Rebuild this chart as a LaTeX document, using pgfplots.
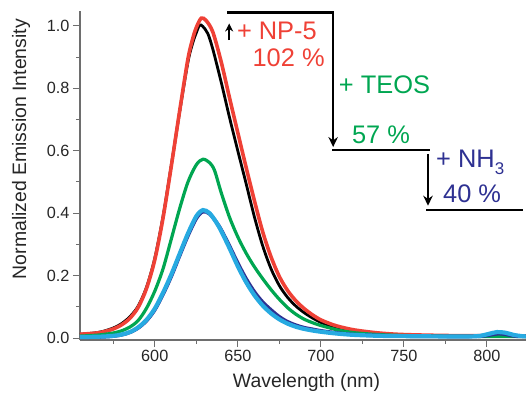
\documentclass[border=0pt]{standalone}
\usepackage{fontspec}
\setmainfont{Liberation Sans}
\usepackage{pgfplots}
\pgfplotsset{compat=1.18}
\usetikzlibrary{arrows.meta}
\definecolor{cred}{RGB}{239,65,54}
\definecolor{cgreen}{RGB}{0,166,81}
\definecolor{cdblue}{RGB}{46,49,146}
\definecolor{clblue}{RGB}{39,170,225}
\definecolor{axgray}{RGB}{110,110,110}
\begin{document}
\begin{tikzpicture}
\begin{axis}[
  width=446bp, height=329bp, scale only axis,
  xmin=555, xmax=823.5, ymin=-0.0064, ymax=1.048,
  axis lines*=left,
  axis line style={axgray, line width=1.2bp},
  every tick/.style={axgray, line width=1bp},
  xtick={600,650,...,800}, minor xtick={575,625,...,825},
  ytick={0,0.2,...,1.0}, minor ytick={0.1,0.3,...,0.9},
  tick align=outside, major tick length=7bp, minor tick length=4bp,
  /pgf/number format/assume math mode=true,
  yticklabel style={/pgf/number format/fixed, /pgf/number format/fixed zerofill, /pgf/number format/precision=1},
  xticklabel style={/pgf/number format/1000 sep={}},
  tick label style={font=\fontsize{16.3}{18}\selectfont, text=black!85},
  xlabel={Wavelength (nm)},
  ylabel={Normalized Emission Intensity},
  xlabel style={font=\fontsize{19.5}{22}\selectfont, text=black!85, at={(axis description cs:0.508,0)}, anchor=base, yshift=-47bp},
  ylabel style={font=\fontsize{19.5}{22}\selectfont, text=black!85, at={(axis description cs:-0.132,0.58)}, anchor=center},
  clip mode=individual,
]
% black
\addplot[black, line width=2.8bp, smooth] coordinates {
(555,0.012)(565,0.017)(570,0.023)(575,0.032)(580,0.046)(585,0.068)(590,0.102)(595,0.162)(600,0.255)(605,0.39)(610,0.555)(615,0.725)(620,0.885)(623,0.948)(625,0.978)(627,1.003)(629,0.998)(632,0.975)(635,0.925)(640,0.82)(645,0.707)(650,0.6)(655,0.495)(660,0.388)(665,0.295)(670,0.222)(675,0.168)(680,0.13)(685,0.102)(690,0.081)(695,0.064)(700,0.05)(705,0.04)(710,0.032)(720,0.021)(735,0.013)(750,0.009)(775,0.007)(800,0.006)(824,0.006)};
% red
\addplot[cred, line width=3.6bp, smooth] coordinates {
(555,0.012)(565,0.016)(570,0.021)(575,0.029)(580,0.042)(585,0.063)(590,0.098)(595,0.158)(600,0.25)(605,0.385)(610,0.552)(615,0.728)(620,0.895)(623,0.962)(625,0.995)(628,1.025)(631,1.017)(635,0.98)(640,0.885)(645,0.77)(650,0.658)(655,0.547)(660,0.44)(665,0.34)(670,0.26)(675,0.197)(680,0.152)(685,0.119)(690,0.094)(695,0.074)(700,0.058)(705,0.047)(710,0.038)(720,0.026)(735,0.016)(750,0.011)(775,0.008)(800,0.007)(824,0.007)};
% green
\addplot[cgreen, line width=3.2bp, smooth] coordinates {
(555,0.006)(565,0.009)(570,0.012)(575,0.016)(580,0.023)(585,0.035)(590,0.056)(595,0.095)(600,0.15)(605,0.222)(610,0.318)(615,0.415)(620,0.5)(625,0.555)(629,0.573)(633,0.562)(636,0.537)(640,0.466)(645,0.387)(650,0.324)(655,0.272)(660,0.228)(665,0.19)(670,0.155)(675,0.124)(680,0.097)(685,0.076)(690,0.06)(695,0.049)(700,0.04)(710,0.026)(720,0.017)(735,0.011)(750,0.008)(775,0.006)(800,0.005)(824,0.005)};
% dark blue
\addplot[cdblue, line width=3.6bp, smooth] coordinates {
(555,0.002)(565,0.003)(570,0.004)(575,0.006)(580,0.01)(585,0.018)(590,0.032)(595,0.055)(600,0.09)(605,0.14)(610,0.198)(615,0.264)(620,0.328)(625,0.383)(629,0.405)(633,0.398)(637,0.372)(640,0.347)(645,0.295)(650,0.24)(655,0.19)(660,0.148)(665,0.115)(670,0.09)(675,0.068)(680,0.052)(685,0.041)(690,0.033)(695,0.028)(700,0.023)(710,0.016)(720,0.011)(735,0.008)(750,0.006)(775,0.005)(790,0.005)(797,0.006)(802,0.01)(807,0.014)(812,0.011)(817,0.006)(824,0.005)};
% light blue
\addplot[clblue, line width=4.2bp, smooth] coordinates {
(555,0.003)(565,0.004)(570,0.005)(575,0.007)(580,0.011)(585,0.019)(590,0.034)(595,0.058)(600,0.094)(605,0.145)(610,0.204)(615,0.27)(620,0.335)(625,0.39)(629,0.41)(633,0.4)(637,0.371)(640,0.343)(645,0.288)(650,0.23)(655,0.179)(660,0.137)(665,0.104)(670,0.079)(675,0.06)(680,0.046)(685,0.036)(690,0.029)(695,0.024)(700,0.02)(710,0.014)(720,0.01)(735,0.007)(750,0.006)(775,0.005)(790,0.005)(796,0.007)(801,0.013)(806,0.019)(811,0.017)(816,0.01)(821,0.006)(824,0.005)};
% annotations
\draw[black, line width=2.4bp] (axis cs:643.6,1.043) -- (axis cs:707.8,1.043);
\draw[black, line width=2.4bp] (axis cs:707,0.603) -- (axis cs:765.7,0.603);
\draw[black, line width=2.4bp] (axis cs:763.3,0.41) -- (axis cs:821.7,0.41);
\draw[black, line width=2.2bp, -{Stealth[length=8bp,width=8bp]}] (axis cs:644.8,0.955) -- (axis cs:644.8,1.008);
\draw[black, line width=2.2bp, -{Stealth[length=10bp,width=9.5bp]}] (axis cs:707.4,1.043) -- (axis cs:707.4,0.612);
\draw[black, line width=2.2bp, -{Stealth[length=10bp,width=9.5bp]}] (axis cs:764.5,0.59) -- (axis cs:764.5,0.424);
\node[anchor=base west, inner sep=0pt, text=cred, font=\fontsize{25.5}{27}\selectfont] at (axis cs:649.4,0.958) {+ NP-5};
\node[anchor=base east, inner sep=0pt, text=cred, font=\fontsize{25.5}{27}\selectfont] at (axis cs:702.4,0.87) {102 \%};
\node[anchor=base west, inner sep=0pt, text=cgreen, font=\fontsize{25.5}{27}\selectfont] at (axis cs:710.8,0.785) {+ TEOS};
\node[anchor=base west, inner sep=0pt, text=cgreen, font=\fontsize{25.5}{27}\selectfont] at (axis cs:718.7,0.622) {57 \%};
\node[anchor=base west, inner sep=0pt, text=cdblue, font=\fontsize{25.5}{27}\selectfont] at (axis cs:769.3,0.545) {+ NH\raisebox{-0.25em}{\fontsize{17}{17}\selectfont 3}};
\node[anchor=base west, inner sep=0pt, text=cdblue, font=\fontsize{25.5}{27}\selectfont] at (axis cs:773.5,0.433) {40 \%};
\end{axis}
\pgfresetboundingbox
\path (current axis.south west) ++(-80bp,-53bp) rectangle ++(526bp,393bp);
\end{tikzpicture}
\end{document}
